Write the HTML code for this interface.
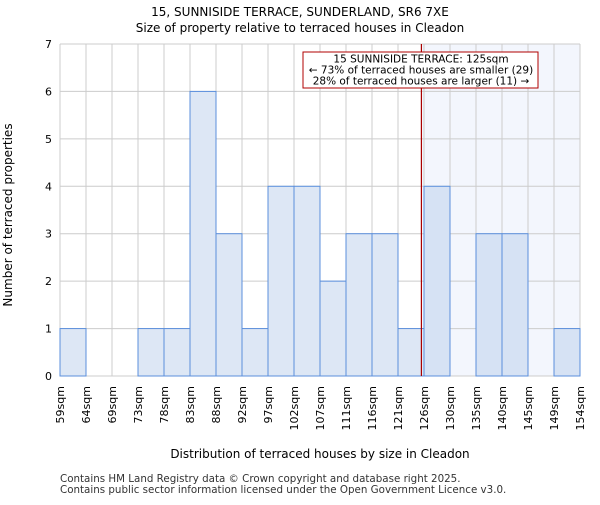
<!DOCTYPE html>
<html><head><meta charset="utf-8"><style>
body{margin:0;background:#fff;}
svg{font-family:"DejaVu Sans","Liberation Sans",sans-serif;}
</style></head><body>
<svg id="c" width="600" height="500" xmlns="http://www.w3.org/2000/svg">
<text x="300" y="16" text-anchor="middle" font-size="12">15, SUNNISIDE TERRACE, SUNDERLAND, SR6 7XE</text>
<text x="300" y="32" text-anchor="middle" font-size="12">Size of property relative to terraced houses in Cleadon</text>
<g id="plot"></g>
<text x="320" y="458" text-anchor="middle" font-size="12">Distribution of terraced houses by size in Cleadon</text>
<text x="12" y="215" text-anchor="middle" font-size="12" transform="rotate(-90 12 215)">Number of terraced properties</text>
<text x="60" y="482" font-size="10.3" fill="#333">Contains HM Land Registry data © Crown copyright and database right 2025.</text>
<text x="60" y="493" font-size="10.3" fill="#333">Contains public sector information licensed under the Open Government Licence v3.0.</text>
</svg>
<script>
const categories=["59sqm","64sqm","69sqm","73sqm","78sqm","83sqm","88sqm","92sqm","97sqm","102sqm","107sqm","111sqm","116sqm","121sqm","126sqm","130sqm","135sqm","140sqm","145sqm","149sqm","154sqm"];
const counts=[1,0,0,1,1,6,3,1,4,4,2,3,3,1,4,0,3,3,0,1];
const yTicks=[0,1,2,3,4,5,6,7];
const markerIndex=13.9;
const NS="http://www.w3.org/2000/svg";
const L=60,R=580,T=44,B=376,yMax=7;
const bw=(R-L)/counts.length;
const xs=i=>L+i*bw;
const ys=v=>B-(v/yMax)*(B-T);
const g=document.getElementById('plot');
function mk(t,a){const e=document.createElementNS(NS,t);for(const k in a)e.setAttribute(k,a[k]);g.appendChild(e);return e;}
let e=mk('rect',{x:xs(markerIndex),y:T,width:R-xs(markerIndex),height:B-T,fill:'#f3f6fd'});


for(let i=0;i<=counts.length;i++){e=mk('line',{x1:xs(i),x2:xs(i),y1:T,y2:B,stroke:'#cccccc','stroke-width':1});

}
yTicks.forEach(v=>{e=mk('line',{x1:L,x2:R,y1:ys(v),y2:ys(v),stroke:'#cccccc','stroke-width':1});


e=mk('text',{x:L-8,y:ys(v)+4,'text-anchor':'end','font-size':11});e.textContent=v;

});
counts.forEach((v,i)=>{if(v>0){e=mk('rect',{x:xs(i),y:ys(v),width:bw,height:B-ys(v),fill:i>=14?'#d6e2f4':'#dde7f5',stroke:'#5b8fdc','stroke-width':1});

}});
categories.forEach((c,i)=>{const x=xs(i)+4;e=mk('text',{x:x,y:386,'text-anchor':'end','font-size':11,transform:`rotate(-90 ${x} 386)`});e.textContent=c;

});
e=mk('line',{x1:xs(markerIndex),x2:xs(markerIndex),y1:T,y2:B,stroke:'#aa0000','stroke-width':1.2});


e=mk('rect',{x:303,y:52,width:235,height:36,fill:'#fff',stroke:'#b00000','stroke-width':1});


["15 SUNNISIDE TERRACE: 125sqm","← 73% of terraced houses are smaller (29)","28% of terraced houses are larger (11) →"].forEach((t,i)=>{e=mk('text',{x:421,y:62.5+i*11,'text-anchor':'middle','font-size':10.5});e.textContent=t;

});
</script>
</body></html>
